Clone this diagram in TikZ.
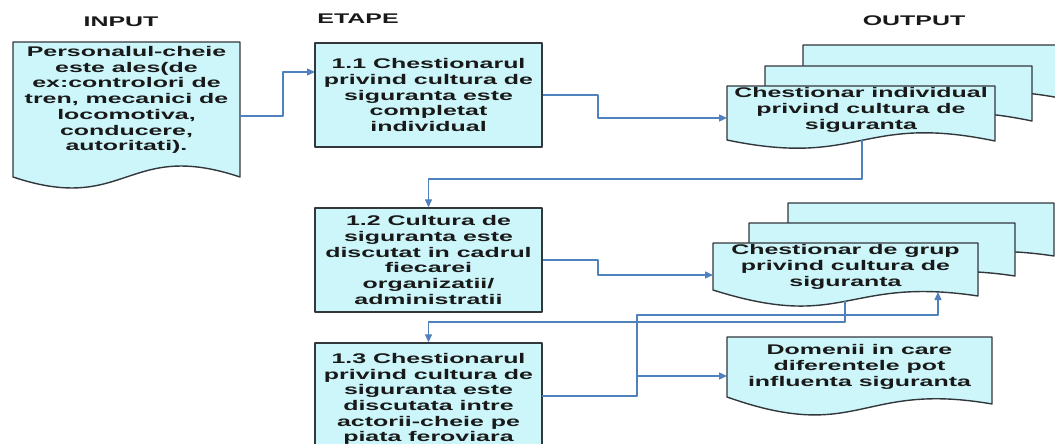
\documentclass[tikz,border=0pt]{standalone}
\usepackage{fontspec}
\setmainfont{Liberation Sans}[FakeStretch=1.78]
\usetikzlibrary{arrows.meta}
\definecolor{fillc}{RGB}{204,246,250}
\definecolor{linec}{RGB}{79,129,189}
\definecolor{edgec}{RGB}{50,55,60}
\definecolor{txtc}{RGB}{25,25,25}
% L T R BL BR A1 A2
\newcommand\docshape[7]{\filldraw[docst] (#3,#2) -- (#1,#2) -- (#1,#4) .. controls ({(#1+#3)/2},#4+#6) and ({(#1+#3)/2},#5-#7) .. (#3,#5) -- cycle;}
\begin{document}
\begin{tikzpicture}[x=1pt,y=-1pt,line join=round,
  txt/.style={font=\fontsize{14}{15.7}\selectfont\bfseries, text=txtc, align=center, inner sep=0pt},
  box/.style={txt, draw=edgec, line width=1.4pt, fill=fillc, minimum width=227pt, minimum height=104pt},
  docst/.style={draw=edgec, line width=1.4pt, fill=fillc},
  conn/.style={draw=linec, line width=1.3pt, -{Triangle[length=8pt,width=7pt]}},
  plain/.style={draw=linec, line width=1.3pt}]
\useasboundingbox (0,0) rectangle (1055,444);
\clip (0,0) rectangle (1055,444);
% headings
\node[txt] (hin) at (121,22) {INPUT};
\node[txt] (het) at (358,19) {ETAPE};
\node[txt] (hout) at (914,21) {OUTPUT};
% input document
\docshape{13}{42}{240}{177}{177}{38}{38}
\node[txt] (input) at (126.5,100) {Personalul-cheie\\este ales(de\\ex:controlori de\\tren, mecanici de\\locomotiva,\\conducere,\\autoritati).};
% output stack 1
\docshape{803}{45}{1070}{99}{100}{28}{28}
\docshape{765}{66}{1032}{120}{121}{28}{28}
\docshape{727}{86}{995}{140}{141}{28}{28}
\node[txt] (out1) at (861,110) {Chestionar individual\\privind cultura de\\siguranta};
% output stack 2
\docshape{788}{203}{1054}{250}{256}{42}{20}
\docshape{749}{223}{1015}{270}{276}{42}{20}
\docshape{713}{243}{978}{290}{296}{42}{20}
\node[txt] (out2) at (845.5,267) {Chestionar de grup\\privind cultura de\\siguranta};
% domenii
\docshape{727}{337}{992}{397}{404}{47}{23}
\node[txt] (dom) at (859.5,367) {Domenii in care\\diferentele pot\\influenta siguranta};
% steps
\node[box] (b11) at (428.5,95) {1.1 Chestionarul\\privind cultura de\\siguranta este\\completat\\individual};
\node[box] (b12) at (428.5,260) {1.2 Cultura de\\siguranta este\\discutat in cadrul\\fiecarei\\organizatii/\\administratii};
\node[box, minimum height=112pt] (b13) at (428.5,399) {1.3 Chestionarul\\privind cultura de\\siguranta este\\discutata intre\\actorii-cheie pe\\piata feroviara};
% connection points
\coordinate (inR) at (240,116);
\coordinate (b11in) at (315,72);
\coordinate (d1in) at (727,118);
\coordinate (d1out) at (862,140);
\coordinate (d2in) at (713,275);
\coordinate (d2out) at (845,301);
\coordinate (b13out) at (542,396);
\coordinate (j) at (637,396);
\coordinate (domin) at (727,376);
\coordinate (d2up) at (938,292);
% connectors
\draw[conn] (inR) -- (283,116) -- (283,72) -- (b11in);
\draw[conn] (b11.east) -- (598,95) -- (598,118) -- (d1in);
\draw[conn] (d1out) -- (862,179) -- (428.5,179) -- (b12.north);
\draw[conn] (b12.east) -- (598,260) -- (598,275) -- (d2in);
\draw[conn] (d2out) -- (845,322) -- (428.5,322) -- (b13.north);
\draw[conn] (b13out) -- (j) -- (637,376) -- (domin);
\draw[conn] (j) -- (637,315) -- (938,315) -- (d2up);
\end{tikzpicture}
\end{document}
